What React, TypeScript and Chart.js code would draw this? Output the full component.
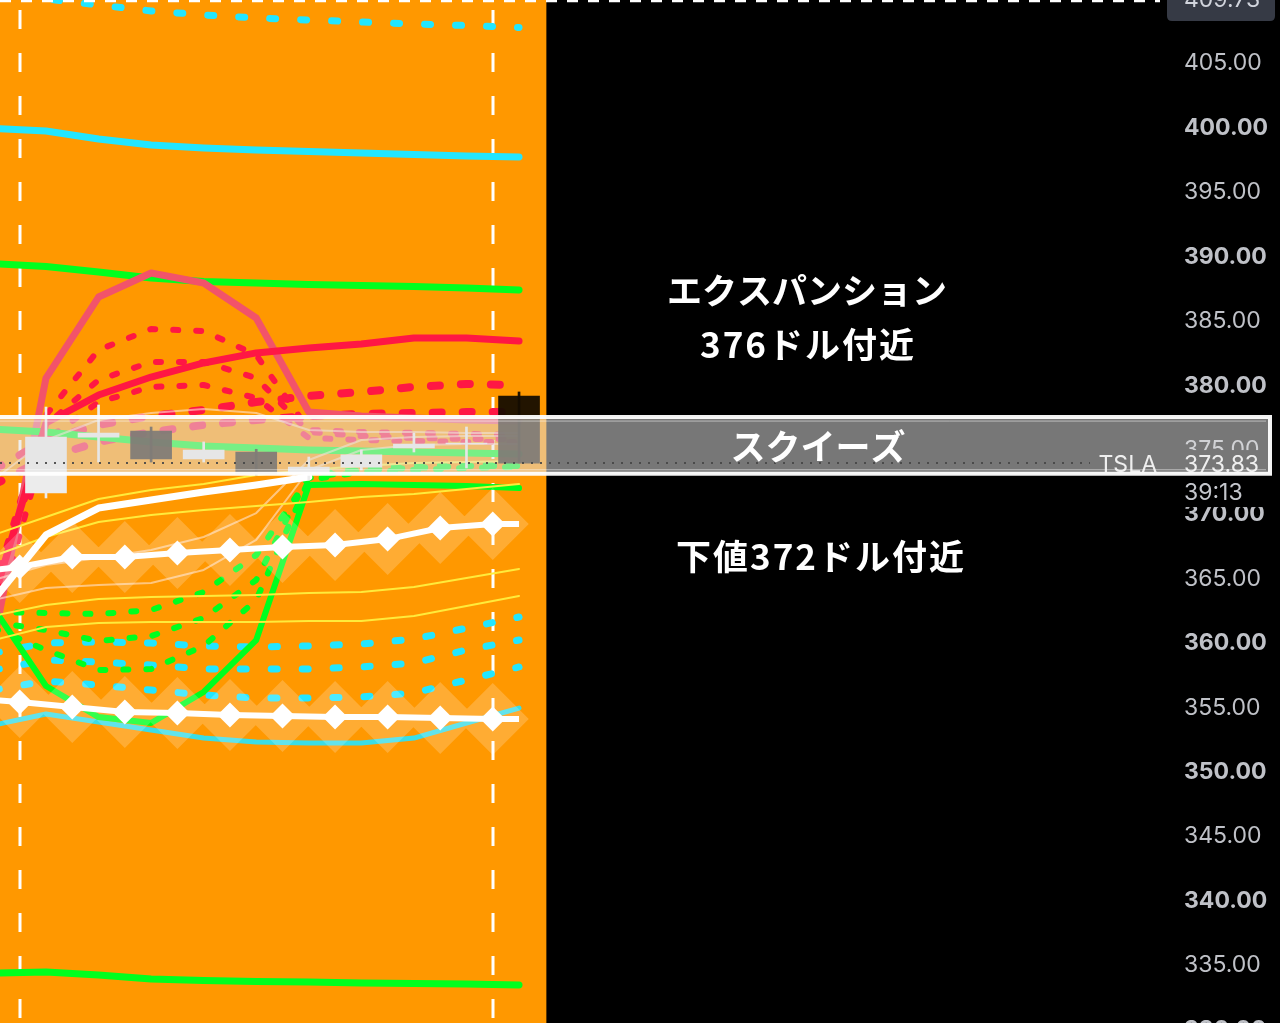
import React, { useEffect, useRef } from "react";
import { Chart, registerables } from "chart.js";
Chart.register(...registerables);

// ---------- data ----------
const X_LINE = [-1, 0, 1, 2, 3, 4, 5, 6, 7, 8, 9];
const X_DIAMOND = [-1, -0.5, 0.5, 1.5, 2.5, 3.5, 4.5, 5.5, 6.5, 7.5, 8.5, 9];
const DIAMOND_MARK = [0, 1, 1, 1, 1, 1, 1, 1, 1, 1, 1, 0];
const CANDLE_X = [0, 1, 2, 3, 4, 5, 6, 7, 8, 9];
const OPEN = [371.51, 375.85, 376.32, 374.15, 374.69, 372.98, 373.52, 375.0, 375.31, 379.04];
const CLOSE = [375.85, 376.16, 374.15, 374.84, 372.98, 373.52, 374.46, 375.31, 375.39, 373.83];
const HIGH = [378.18, 378.34, 376.63, 375.47, 374.9, 374.3, 374.84, 376.16, 376.63, 379.35];
const LOW = [371.12, 373.91, 373.91, 373.91, 372.9, 372.52, 373.29, 374.69, 373.45, 373.83];

const CYAN_DOT_TOP = [410.95, 409.86, 409.39, 408.93, 408.62, 408.39, 408.23, 408.07, 407.92, 407.8, 407.65];
const CYAN_TOP = [399.81, 399.61, 398.99, 398.52, 398.29, 398.14, 398.02, 397.9, 397.79, 397.67, 397.59];
const GREEN_TOP = [389.32, 389.09, 388.66, 388.2, 387.93, 387.81, 387.69, 387.62, 387.54, 387.42, 387.27];
const RED_MAIN = [363.2, 376.94, 379.11, 380.51, 381.6, 382.38, 382.76, 383.07, 383.54, 383.54, 383.31];
const RED_PALE = [359.86, 380.43, 386.72, 388.59, 387.81, 385.09, 377.79, 377.48, 377.33, 377.17, 377.1];
const RED_DASH_A = [363.98, 377.56, 382.61, 384.24, 384.08, 382.22, 376.4, 376.24, 376.17, 376.09, 376.01];
const RED_DASH_B = [362.42, 376.79, 380.28, 381.68, 381.68, 380.43, 376.24, 375.93, 375.78, 375.7, 375.7];
const RED_DASH_C = [360.87, 375.62, 378.57, 379.74, 379.89, 378.88, 375.78, 375.62, 375.54, 375.47, 375.47];
const RED_DASH_D = [373.29, 375.62, 376.79, 377.48, 377.95, 378.57, 379.04, 379.35, 379.74, 379.97, 379.89];
const RED_DASH_E = [372.13, 374.22, 375.47, 376.24, 376.79, 377.17, 377.48, 377.64, 377.72, 377.79, 377.79];
const GREEN_MID = [376.47, 376.24, 375.85, 375.47, 375.16, 375.0, 374.84, 374.77, 374.69, 374.61, 374.53];
const GREEN_ARCH = [362.58, 356.52, 354.11, 353.65, 356.06, 360.09, 372.13, 372.21, 372.13, 372.05, 371.89];
const GREEN_DASH_A = [362.27, 362.19, 362.11, 362.42, 363.82, 366.69, 372.67, 373.29, 373.45, 373.6, 373.6];
const GREEN_DASH_B = [361.49, 360.87, 360.02, 360.4, 361.8, 364.75, 372.9, 373.45, 373.6, 373.68, 373.76];
const GREEN_DASH_C = [361.02, 359.32, 357.76, 357.84, 359.63, 363.2, 372.52, 373.14, 373.29, 373.45, 373.53];
const CYAN_DASH_A = [359.08, 359.86, 359.94, 359.86, 359.63, 359.55, 359.63, 359.78, 360.17, 361.02, 361.88];
const CYAN_DASH_B = [357.76, 358.54, 358.38, 358.15, 357.84, 357.84, 357.84, 358.0, 358.31, 359.32, 360.09];
const CYAN_DASH_C = [356.21, 356.91, 356.6, 356.21, 355.82, 355.59, 355.59, 355.67, 355.98, 356.99, 358.0];
const CYAN_LOW = [353.49, 354.35, 353.73, 353.11, 352.48, 352.17, 352.1, 352.1, 352.48, 353.65, 354.81];
const GREEN_BOTTOM = [334.24, 334.32, 334.08, 333.77, 333.66, 333.58, 333.54, 333.46, 333.42, 333.39, 333.31];
const YELLOW_A = [368.25, 369.64, 371.04, 371.74, 372.21, 372.9, 373.29, 373.6, 373.84, 373.91, 373.99];
const YELLOW_B = [366.61, 368.09, 369.25, 369.8, 370.19, 370.5, 370.81, 371.2, 371.43, 371.82, 372.21];
const YELLOW_C = [361.96, 362.81, 363.28, 363.43, 363.51, 363.59, 363.74, 363.82, 364.21, 364.91, 365.61];
const YELLOW_D = [360.09, 361.1, 361.41, 361.49, 361.49, 361.49, 361.57, 361.57, 361.96, 362.73, 363.51];
const THIN_A = [363.2, 364.13, 364.36, 364.52, 365.53, 367.86, 373.29, 374.84, 375.23, 375.31, 375.31];
const THIN_B = [364.75, 365.92, 366.46, 367.08, 368.09, 369.95, 374.07, 375.62, 375.85, 375.93, 375.93];
const THIN_C = [372.52, 375.62, 377.17, 377.72, 378.03, 377.72, 376.4, 376.24, 376.24, 376.17, 376.17];
const WHITE_THICK = [363.2, 368.25, 370.34, 370.96, 371.58, 372.13, 372.75, null, null, null, null];
const DIAMOND_UP = [365.53, 365.76, 366.54, 366.54, 366.85, 367.08, 367.31, 367.47, 367.93, 368.79, 369.1, 369.1];
const DIAMOND_LOW = [355.43, 355.28, 354.89, 354.5, 354.43, 354.27, 354.19, 354.11, 354.11, 354.04, 353.96, 353.96];

const Y_TICKS = [330, 335, 340, 345, 350, 355, 360, 365, 370, 375, 380, 385, 390, 395, 400, 405];
const Y_MIN = 330.36;
const Y_MAX = 409.78;
const X_MIN = -0.875;
const X_MAX = 21.29;
const SESSION_END = 9.52;
const SESSION_BREAKS = [-0.5, 8.5];
const LAST_PRICE = 373.83;
const TOP_PRICE = 409.73;
const BAND_LOW = 373.0;
const BAND_HIGH = 377.4;

const CYAN = "#22e6ff";
const GREEN = "#00ff1e";
const RED = "#ff1744";
const PALE_RED = "#f2536a";
const YELLOW = "#ffeb3b";
const THIN = "rgba(255,228,210,0.6)";
const UP = "#ececec";
const DOWN = "rgba(20,12,0,0.94)";

function line(data: (number | null)[], color: string, width: number, dash: number[] | undefined, order: number) {
  return {
    type: "line" as const,
    data: X_LINE.map((x, i) => ({ x, y: data[i] })),
    borderColor: color,
    borderWidth: width,
    borderDash: dash || [],
    borderCapStyle: "round" as const,
    borderJoinStyle: "round" as const,
    pointRadius: 0,
    fill: false,
    tension: 0,
    order,
  };
}

function diamonds(data: number[], order: number) {
  return {
    type: "line" as const,
    data: X_DIAMOND.map((x, i) => ({ x, y: data[i] })),
    borderColor: "#ffffff",
    borderWidth: 6,
    pointRadius: DIAMOND_MARK.map((m) => (m ? 12.5 : 0)),
    pointStyle: "rectRot" as const,
    pointBackgroundColor: "#ffffff",
    pointBorderWidth: 0,
    fill: false,
    tension: 0,
    order,
    isDiamond: true,
  };
}

const drawPlugin = {
  id: "decor",
  beforeDraw(chart: any) {
    const { ctx, chartArea, scales } = chart;
    const x = scales.x;
    ctx.save();
    ctx.fillStyle = "#000";
    ctx.fillRect(0, 0, chart.width, chart.height);
    const x0 = chartArea.left;
    const x1 = x.getPixelForValue(SESSION_END);
    ctx.fillStyle = "#ff9800";
    ctx.fillRect(x0, 0, x1 - x0, chart.height);
    ctx.strokeStyle = "#ffffff";
    ctx.lineWidth = 3;
    ctx.setLineDash([19, 24]);
    SESSION_BREAKS.forEach((v) => {
      const px = Math.round(x.getPixelForValue(v));
      ctx.beginPath();
      ctx.moveTo(px, 10);
      ctx.lineTo(px, chart.height);
      ctx.stroke();
    });
    ctx.restore();
  },
  afterDatasetsDraw(chart: any) {
    const { ctx, chartArea } = chart;
    ctx.save();
    ctx.beginPath();
    ctx.rect(chartArea.left, chartArea.top, chartArea.right - chartArea.left, chartArea.bottom - chartArea.top);
    ctx.clip();
    ctx.beginPath();
    const R = 36;
    chart.data.datasets.forEach((ds: any, di: number) => {
      if (!ds.isDiamond) return;
      const meta = chart.getDatasetMeta(di);
      meta.data.forEach((pt: any, j: number) => {
        if (!DIAMOND_MARK[j]) return;
        ctx.moveTo(pt.x, pt.y - R);
        ctx.lineTo(pt.x + R, pt.y);
        ctx.lineTo(pt.x, pt.y + R);
        ctx.lineTo(pt.x - R, pt.y);
        ctx.closePath();
      });
    });
    ctx.fillStyle = "rgba(255,255,255,0.2)";
    ctx.fill();
    ctx.restore();
  },
  afterDraw(chart: any) {
    const { ctx, chartArea, scales } = chart;
    const y = scales.y;
    const right = chartArea.right;
    const labelX = right + 19;
    ctx.save();

    // price label block (under the band)
    const pY = y.getPixelForValue(LAST_PRICE);
    ctx.fillStyle = "#000";
    ctx.fillRect(right, pY - 13, chart.width - right, 57);
    ctx.font = '23px "Inter", "Liberation Sans", sans-serif';
    ctx.textBaseline = "middle";
    ctx.textAlign = "left";
    ctx.fillStyle = "#ffffff";
    ctx.fillText(LAST_PRICE.toFixed(2), labelX, pY + 2);
    ctx.textAlign = "right";
    ctx.fillText("TSLA", right - 8, pY + 2);
    ctx.textAlign = "left";
    ctx.fillStyle = "#c4c6cc";
    ctx.fillText("39:13", labelX, pY + 30);

    // squeeze band
    const bTop = y.getPixelForValue(BAND_HIGH);
    const bBot = y.getPixelForValue(BAND_LOW);
    const bRight = 1270;
    ctx.fillStyle = "rgba(225,225,225,0.53)";
    ctx.fillRect(0, bTop, bRight, bBot - bTop);
    ctx.strokeStyle = "rgba(255,255,255,0.95)";
    ctx.lineWidth = 4;
    ctx.setLineDash([]);
    ctx.beginPath();
    ctx.moveTo(0, bTop);
    ctx.lineTo(bRight, bTop);
    ctx.lineTo(bRight, bBot);
    ctx.lineTo(0, bBot);
    ctx.stroke();
    ctx.strokeStyle = "rgba(255,255,255,0.5)";
    ctx.lineWidth = 1;
    ctx.beginPath();
    ctx.moveTo(0, bTop + 4);
    ctx.lineTo(bRight - 4, bTop + 4);
    ctx.moveTo(0, bBot - 4);
    ctx.lineTo(bRight - 4, bBot - 4);
    ctx.stroke();

    // last price dotted line
    ctx.strokeStyle = "rgba(70,70,70,0.9)";
    ctx.lineWidth = 2;
    ctx.setLineDash([2, 7]);
    ctx.beginPath();
    ctx.moveTo(chartArea.left, pY);
    ctx.lineTo(1090, pY);
    ctx.stroke();

    // top price line + label
    const tY = Math.max(1, y.getPixelForValue(TOP_PRICE));
    ctx.strokeStyle = "#ffffff";
    ctx.lineWidth = 2.5;
    ctx.setLineDash([11, 10]);
    ctx.beginPath();
    ctx.moveTo(chartArea.left, tY);
    ctx.lineTo(right - 5, tY);
    ctx.stroke();
    ctx.setLineDash([]);
    ctx.fillStyle = "#363a45";
    ctx.beginPath();
    ctx.moveTo(right + 2, -5);
    ctx.lineTo(1275, -5);
    ctx.lineTo(1275, 16);
    ctx.quadraticCurveTo(1275, 21, 1270, 21);
    ctx.lineTo(right + 7, 21);
    ctx.quadraticCurveTo(right + 2, 21, right + 2, 16);
    ctx.closePath();
    ctx.fill();
    ctx.fillStyle = "#d1d4dc";
    ctx.textAlign = "left";
    ctx.font = '23px "Inter", "Liberation Sans", sans-serif';
    ctx.fillText(TOP_PRICE.toFixed(2), labelX, 0);

    // annotations
    ctx.fillStyle = "#ffffff";
    ctx.textAlign = "center";
    ctx.font = 'bold 35px "Noto Sans CJK JP", sans-serif';
    ctx.fillText("エクスパンション", 807, 291);
    ctx.fillText("スクイーズ", 818, 447);
    (ctx as any).letterSpacing = "2px";
    ctx.fillText("376ドル付近", 808, 345);
    ctx.fillText("下値372ドル付近", 821, 557);
    (ctx as any).letterSpacing = "0px";
    ctx.restore();
  },
};

export default function App() {
  const ref = useRef<HTMLCanvasElement | null>(null);
  useEffect(() => {
    if (!ref.current) return;
    const datasets: any[] = [
      diamonds(DIAMOND_UP, 0),
      diamonds(DIAMOND_LOW, 0),
      {
        type: "bar",
        data: CANDLE_X.map((x, i) => ({ x, y: [OPEN[i], CLOSE[i]] })),
        backgroundColor: CANDLE_X.map((_, i) => (CLOSE[i] >= OPEN[i] ? UP : DOWN)),
        barThickness: 41,
        grouped: false,
        borderWidth: 0,
        order: 1,
      },
      {
        type: "bar",
        data: CANDLE_X.map((x, i) => ({ x, y: [LOW[i], HIGH[i]] })),
        backgroundColor: CANDLE_X.map((_, i) => (CLOSE[i] >= OPEN[i] ? UP : DOWN)),
        barThickness: 2,
        grouped: false,
        borderWidth: 0,
        order: 2,
      },
      line(WHITE_THICK, "#ffffff", 7, undefined, 3),
      line(YELLOW_A, YELLOW, 2, undefined, 4),
      line(YELLOW_B, YELLOW, 2, undefined, 4),
      line(YELLOW_C, YELLOW, 2, undefined, 4),
      line(YELLOW_D, YELLOW, 2, undefined, 4),
      line(THIN_A, THIN, 2, undefined, 4),
      line(THIN_B, THIN, 2, undefined, 4),
      line(THIN_C, THIN, 2, undefined, 4),
      line(RED_MAIN, RED, 7, undefined, 5),
      line(GREEN_MID, GREEN, 7, undefined, 6),
      line(GREEN_ARCH, GREEN, 6, undefined, 7),
      line(RED_PALE, PALE_RED, 7, undefined, 8),
      line(RED_DASH_A, RED, 6, [5, 18], 9),
      line(RED_DASH_B, RED, 6, [5, 18], 9),
      line(RED_DASH_C, RED, 6, [5, 18], 9),
      line(RED_DASH_D, RED, 8, [9, 21], 9),
      line(RED_DASH_E, RED, 8, [9, 21], 9),
      line(GREEN_DASH_A, GREEN, 6, [5, 18], 10),
      line(GREEN_DASH_B, GREEN, 6, [5, 18], 10),
      line(GREEN_DASH_C, GREEN, 6, [5, 18], 10),
      line(CYAN_DASH_A, CYAN, 7, [6, 25], 11),
      line(CYAN_DASH_B, CYAN, 7, [6, 25], 11),
      line(CYAN_DASH_C, CYAN, 7, [6, 25], 11),
      line(CYAN_DOT_TOP, CYAN, 7, [6, 25], 11),
      line(CYAN_LOW, "rgba(38,228,255,0.9)", 5, undefined, 11),
      line(CYAN_TOP, CYAN, 7, undefined, 11),
      line(GREEN_TOP, GREEN, 7, undefined, 11),
      line(GREEN_BOTTOM, GREEN, 7, undefined, 11),
    ];
    const chart = new Chart(ref.current, {
      type: "line",
      data: { datasets },
      options: {
        responsive: false,
        maintainAspectRatio: false,
        animation: false,
        devicePixelRatio: 1,
        layout: { padding: 0 },
        plugins: { legend: { display: false }, tooltip: { enabled: false }, title: { display: false } },
        elements: { point: { radius: 0 } },
        scales: {
          x: { type: "linear", min: X_MIN, max: X_MAX, display: false, offset: false, grid: { offset: false } },
          y: {
            position: "right",
            min: Y_MIN,
            max: Y_MAX,
            grid: { display: false, drawTicks: false },
            border: { display: false },
            afterBuildTicks: (s: any) => {
              s.ticks = Y_TICKS.map((v) => ({ value: v }));
            },
            afterFit: (s: any) => {
              s.width = 115;
              s.paddingTop = 0;
              s.paddingBottom = 0;
            },
            ticks: {
              padding: 19,
              labelOffset: 2,
              color: "#bfc1c7",
              font: (c: any) => ({
                family: '"Inter", "Liberation Sans", sans-serif',
                size: 23,
                weight: c.tick && c.tick.value % 10 === 0 ? "bold" : "normal",
              }),
              callback: (v: any) => Number(v).toFixed(2),
            },
          },
        },
      } as any,
      plugins: [drawPlugin],
    });
    return () => chart.destroy();
  }, []);
  return (
    <div style={{ position: "fixed", left: 0, top: 0, width: 1280, height: 1023, background: "#000" }}>
      <canvas ref={ref} width={1280} height={1023} style={{ display: "block", width: 1280, height: 1023 }} />
    </div>
  );
}
